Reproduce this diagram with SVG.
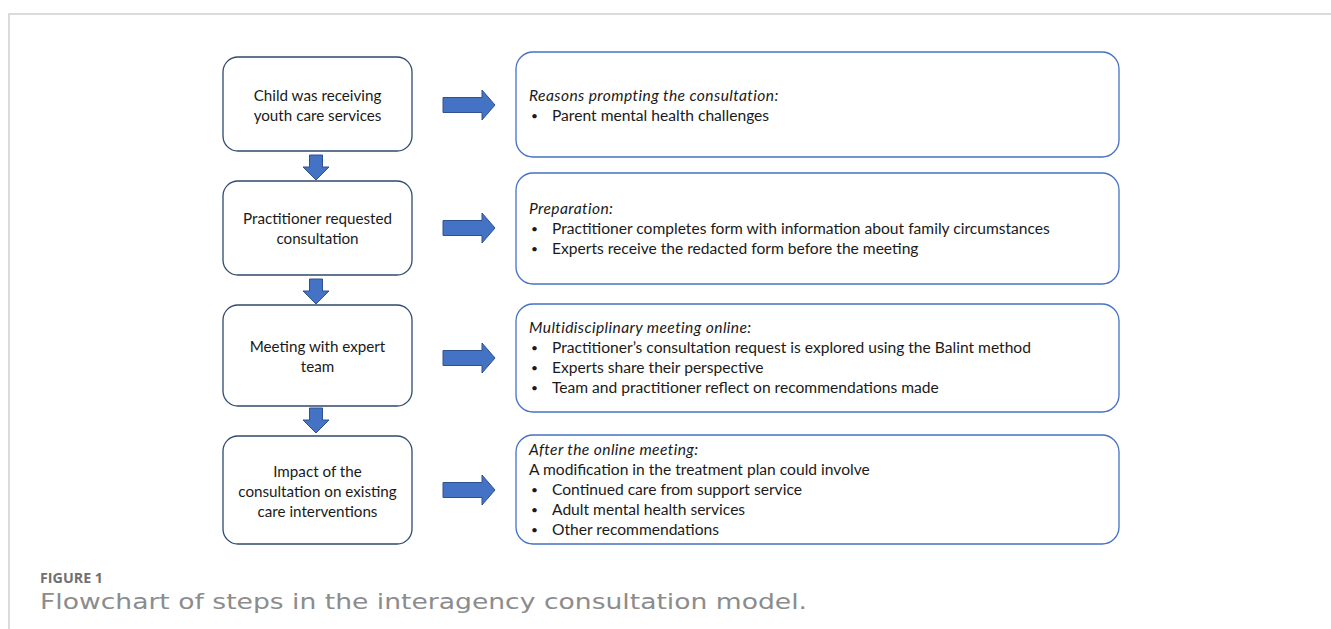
<svg xmlns="http://www.w3.org/2000/svg" width="1331" height="629" viewBox="0 0 1331 629">
  <style>
    .frame { fill: none; stroke: #cfcfcf; stroke-width: 1.5; }
    .step { fill: #ffffff; stroke: #2f4a6e; stroke-width: 1.3; }
    .detail { fill: #ffffff; stroke: #4472c4; stroke-width: 1.3; }
    .arrow { fill: #4472c4; stroke: #2f528f; stroke-width: 1; }
    .t { font-family: Lato, "Liberation Sans", sans-serif; font-size: 15.2px; fill: #1a1a1a; }
    .r { font-size: 15.6px; }
    .c { text-anchor: middle; }
    .i { font-style: italic; letter-spacing: 0.4px; }
    .dot { font-size: 12px; }
    .cap1 { font-family: "Open Sans", "Liberation Sans", sans-serif; font-size: 14px; font-weight: bold; fill: #707070; }
    .cap2 { font-family: "DejaVu Sans", "Open Sans", sans-serif; font-size: 20.5px; fill: #8c8c8c; }
  </style>
  <defs>
    <path id="arrowRight" d="M0,-7.5 H39 V-15 L52,0 L39,15 V7.5 H0 Z"/>
    <path id="arrowDown" d="M-6.5,0 H6.5 V12 H13 L0,25 L-13,12 H-6.5 Z"/>
  </defs>

  <rect width="1331" height="629" fill="#ffffff"/>
  <path class="frame" d="M9,629 V14 H1331"/>

  <!-- connectors -->
  <g id="connectors">
    <use href="#arrowDown" class="arrow" x="316" y="155"/>
    <use href="#arrowDown" class="arrow" x="316" y="279"/>
    <use href="#arrowDown" class="arrow" x="316" y="408"/>
    <use href="#arrowRight" class="arrow" x="443" y="105"/>
    <use href="#arrowRight" class="arrow" x="443" y="228"/>
    <use href="#arrowRight" class="arrow" x="443" y="358"/>
    <use href="#arrowRight" class="arrow" x="443" y="490"/>
  </g>

  <!-- steps -->
  <g id="step1">
    <rect class="step" x="223" y="57" width="189" height="94" rx="15"/>
    <text class="t c" x="317.5" y="101">Child was receiving</text>
    <text class="t c" x="317.5" y="121">youth care services</text>
  </g>
  <g id="step2">
    <rect class="step" x="223" y="181" width="189" height="94" rx="15"/>
    <text class="t c" x="317.5" y="224">Practitioner requested</text>
    <text class="t c" x="317.5" y="244">consultation</text>
  </g>
  <g id="step3">
    <rect class="step" x="223" y="305" width="189" height="101" rx="15"/>
    <text class="t c" x="317.5" y="352">Meeting with expert</text>
    <text class="t c" x="317.5" y="372">team</text>
  </g>
  <g id="step4">
    <rect class="step" x="223" y="436" width="189" height="108" rx="15"/>
    <text class="t c" x="317.5" y="477">Impact of the</text>
    <text class="t c" x="317.5" y="497">consultation on existing</text>
    <text class="t c" x="317.5" y="517">care interventions</text>
  </g>

  <!-- details -->
  <g id="detail1">
    <rect class="detail" x="516" y="52" width="603" height="105" rx="17"/>
    <text class="t r i" x="529" y="101">Reasons prompting the consultation:</text>
    <text class="t dot" x="531" y="120">•</text>
    <text class="t r" x="552" y="121">Parent mental health challenges</text>
  </g>
  <g id="detail2">
    <rect class="detail" x="516" y="173" width="603" height="111" rx="17"/>
    <text class="t r i" x="529" y="214">Preparation:</text>
    <text class="t dot" x="531" y="233">•</text>
    <text class="t r" x="552" y="234">Practitioner completes form with information about family circumstances</text>
    <text class="t dot" x="531" y="253">•</text>
    <text class="t r" x="552" y="254">Experts receive the redacted form before the meeting</text>
  </g>
  <g id="detail3">
    <rect class="detail" x="516" y="304" width="603" height="108" rx="17"/>
    <text class="t r i" x="529" y="333">Multidisciplinary meeting online:</text>
    <text class="t dot" x="531" y="352">•</text>
    <text class="t r" x="552" y="353">Practitioner’s consultation request is explored using the Balint method</text>
    <text class="t dot" x="531" y="372">•</text>
    <text class="t r" x="552" y="373">Experts share their perspective</text>
    <text class="t dot" x="531" y="392">•</text>
    <text class="t r" x="552" y="393">Team and practitioner reflect on recommendations made</text>
  </g>
  <g id="detail4">
    <rect class="detail" x="516" y="435" width="603" height="109" rx="17"/>
    <text class="t r i" x="529" y="455">After the online meeting:</text>
    <text class="t r" x="529" y="475">A modification in the treatment plan could involve</text>
    <text class="t dot" x="531" y="494">•</text>
    <text class="t r" x="552" y="495">Continued care from support service</text>
    <text class="t dot" x="531" y="514">•</text>
    <text class="t r" x="552" y="515">Adult mental health services</text>
    <text class="t dot" x="531" y="534">•</text>
    <text class="t r" x="552" y="535">Other recommendations</text>
  </g>

  <!-- caption -->
  <text class="cap1" x="40" y="583" textLength="63" lengthAdjust="spacingAndGlyphs">FIGURE 1</text>
  <text class="cap2" x="40" y="609" textLength="767" lengthAdjust="spacingAndGlyphs">Flowchart of steps in the interagency consultation model.</text>
</svg>
